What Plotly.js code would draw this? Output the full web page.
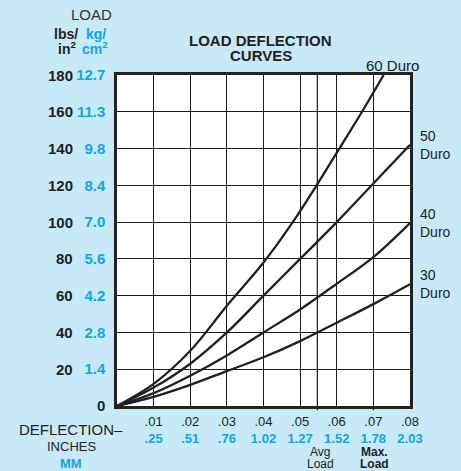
<!DOCTYPE html>
<html>
<head>
<meta charset="utf-8">
<script src="https://cdn.plot.ly/plotly-3.0.1.min.js"></script>
<style>
  html, body { margin: 0; padding: 0; background: #C7E9F8; }
  #chart { width: 461px; height: 471px; }
</style>
</head>
<body>
<div id="chart"></div>
<script>
// ---- data ----
var seriesNames = ['30 Duro', '40 Duro', '50 Duro', '60 Duro'];
var defl30 = [0, 0.01, 0.02, 0.03, 0.04, 0.05, 0.06, 0.07, 0.08];
var load30 = [0, 5, 11.5, 19, 26.5, 35.3, 45.3, 55.4, 66.2];
var defl40 = [0, 0.01, 0.02, 0.03, 0.04, 0.05, 0.06, 0.07, 0.08];
var load40 = [0, 7, 16.5, 27.5, 40, 52.5, 66.5, 81, 99.5];
var defl50 = [0, 0.01, 0.02, 0.03, 0.04, 0.05, 0.06, 0.07, 0.08];
var load50 = [0, 10, 23, 40, 60, 80, 100, 121, 142];
var defl60 = [0, 0.01, 0.02, 0.03, 0.04, 0.048, 0.0545, 0.0607, 0.0669, 0.0728];
var load60 = [0, 12, 30, 54.5, 78, 100, 120, 140, 160, 180];

var loadTicks = [0, 20, 40, 60, 80, 100, 120, 140, 160, 180];
var lbsLabels = ['0', '20', '40', '60', '80', '100', '120', '140', '160', '180'];
var kgLabels  = ['', '1.4', '2.8', '4.2', '5.6', '7.0', '8.4', '9.8', '11.3', '12.7'];

var deflTicks = [0.01, 0.02, 0.03, 0.04, 0.05, 0.06, 0.07, 0.08];
var inchLabels = ['.01', '.02', '.03', '.04', '.05', '.06', '.07', '.08'];
var mmLabels   = ['.25', '.51', '.76', '1.02', '1.27', '1.52', '1.78', '2.03'];

var avgLoad = 0.0547;
var maxLoad = 0.07;

// ---- styling ----
var DARK = '#231F20';
var BLUE = '#12A5E6';
var GRID = '#1A1A1A';
var FONT = 'Liberation Sans, Arial, sans-serif';
var M = {l: 117, r: 51, t: 75, b: 65};
var W = 461, H = 471;
var PW = W - M.l - M.r, PH = H - M.t - M.b;
function px(x) { return (x - M.l) / PW; }
function py(y) { return (H - M.b - y) / PH; }

var xs = [defl30, defl40, defl50, defl60];
var ys = [load30, load40, load50, load60];
var traces = xs.map(function (x, i) {
  return {
    x: x, y: ys[i], type: 'scatter', mode: 'lines', name: seriesNames[i],
    line: {color: DARK, width: 2.3, shape: 'spline', smoothing: 1},
    hoverinfo: 'skip', cliponaxis: true
  };
});

var kgText = kgLabels.map(function (k, i) {
  if (i === 0) return '<span style="color:' + DARK + '">' + lbsLabels[0] + '</span>';
  return k;
});
var xText = inchLabels.map(function (t, i) {
  return t + '<br><b><span style="color:' + BLUE + '">' + mmLabels[i] + '</span></b>';
});

var ann = [];
// lbs column
loadTicks.forEach(function (v, i) {
  if (i === 0) return;
  ann.push({xref: 'paper', yref: 'y', x: px(75), y: v, xanchor: 'right', yanchor: 'middle',
    text: '<b>' + lbsLabels[i] + '</b>', showarrow: false,
    font: {family: FONT, size: 15, color: DARK}});
});
function txt(x, y, t, size, color, bold, anchor) {
  ann.push({xref: 'paper', yref: 'paper', x: px(x), y: py(y), xanchor: anchor || 'center', yanchor: 'middle',
    text: bold ? '<b>' + t + '</b>' : t, showarrow: false,
    font: {family: FONT, size: size, color: color}});
}
// header texts
txt(91, 15, 'LOAD', 15, '#333', false);
txt(66, 34, 'lbs/', 14, DARK, true);
txt(67, 48, 'in<sup>2</sup>', 14, DARK, true);
txt(96, 34, 'kg/', 14, BLUE, true);
txt(95, 48, 'cm<sup>2</sup>', 14, BLUE, true);
txt(260.5, 40, 'LOAD DEFLECTION', 15, DARK, true);
txt(260.5, 56, 'CURVES', 15, DARK, true);
// bottom texts
txt(71, 429, 'DEFLECTION–', 15, DARK, false);
txt(71, 446.5, 'INCHES', 13, DARK, false);
txt(71, 463, 'MM', 13, BLUE, true);
txt(320, 452, 'Avg', 12, DARK, false);
txt(320, 464, 'Load', 12, DARK, false);
txt(374, 452, 'Max.', 12, DARK, true);
txt(374, 464, 'Load', 12, DARK, true);
// curve labels
txt(392, 66, seriesNames[3], 15, DARK, false);
var ends = [load30[load30.length - 1], load40[load40.length - 1], load50[load50.length - 1]];
[0, 1, 2].forEach(function (i) {
  var parts = seriesNames[i].split(' ');
  ann.push({xref: 'paper', yref: 'y', x: px(418), y: ends[i], xanchor: 'left', yanchor: 'middle',
    text: parts[0] + '<br>' + parts[1], showarrow: false, align: 'left',
    font: {family: FONT, size: 14, color: DARK}});
});

var layout = {
  width: W, height: H, margin: M,
  paper_bgcolor: '#C7E9F8', plot_bgcolor: '#FFFFFF',
  showlegend: false,
  font: {family: FONT, color: DARK},
  xaxis: {
    range: [0, 0.08], tickvals: deflTicks, ticktext: xText, ticks: '',
    showgrid: true, gridcolor: GRID, gridwidth: 1, zeroline: false,
    showline: true, mirror: true, linecolor: '#222', linewidth: 2.6,
    tickfont: {family: FONT, size: 13, color: DARK}, ticklabelstandoff: 2, fixedrange: true
  },
  yaxis: {
    range: [0, 180], tickvals: loadTicks, ticktext: kgText, ticks: '',
    showgrid: true, gridcolor: GRID, gridwidth: 1, zeroline: false,
    showline: true, mirror: true, linecolor: '#222', linewidth: 2.6,
    tickfont: {family: FONT, size: 15, color: BLUE, weight: 'bold'}, ticklabelstandoff: 6, fixedrange: true
  },
  shapes: [
    {type: 'line', xref: 'x', yref: 'paper', x0: avgLoad, x1: avgLoad, y0: -0.013, y1: 1,
      line: {color: GRID, width: 1.2}},
    {type: 'line', xref: 'x', yref: 'paper', x0: maxLoad, x1: maxLoad, y0: -0.013, y1: 0,
      line: {color: GRID, width: 1.2}}
  ],
  annotations: ann
};

Plotly.newPlot('chart', traces, layout, {displayModeBar: false, staticPlot: true});
</script>
</body>
</html>
